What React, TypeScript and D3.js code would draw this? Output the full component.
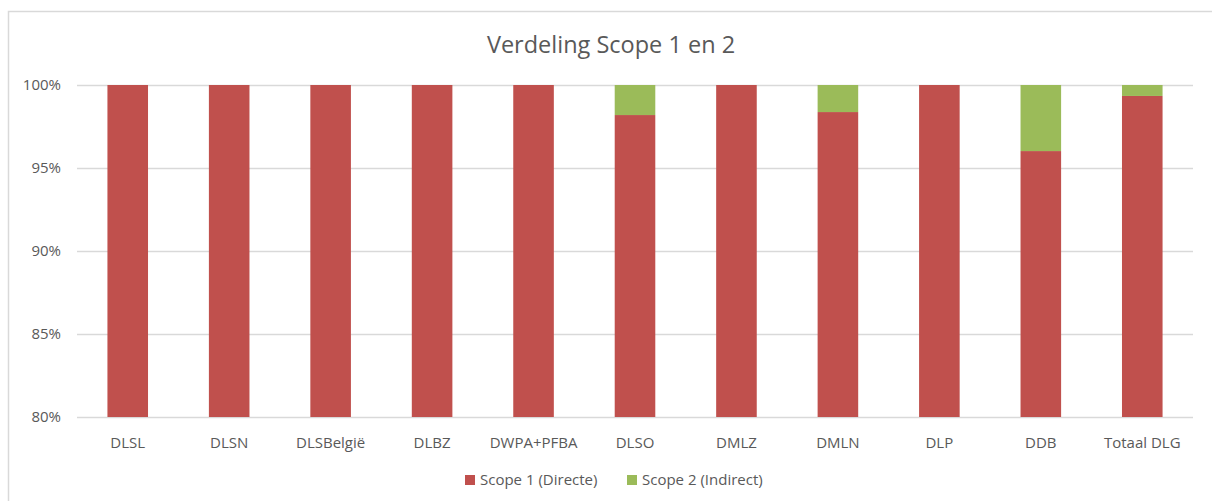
import { useEffect, useRef } from 'react';
import * as d3 from 'd3';

// Chart data
const categories = ['DLSL', 'DLSN', 'DLSBelgië', 'DLBZ', 'DWPA+PFBA', 'DLSO', 'DMLZ', 'DMLN', 'DLP', 'DDB', 'Totaal DLG'];
const scope1 = [1.0, 1.0, 1.0, 1.0, 1.0, 0.9819, 1.0, 0.9837, 1.0, 0.9602, 0.9934];
const scope2 = [0, 0, 0, 0, 0, 0.0181, 0, 0.0163, 0, 0.0398, 0.0066];
const yTicks = [0.8, 0.85, 0.9, 0.95, 1.0];
const seriesNames = ['Scope 1 (Directe)', 'Scope 2 (Indirect)'];
const seriesColors = ['#C0504D', '#9BBB59'];

const App = () => {
  const ref = useRef<SVGSVGElement>(null);

  useEffect(() => {
    const W = 1212;
    const H = 501;
    const svg = d3.select(ref.current);
    svg.selectAll('*').remove();

    const font = "'Open Sans', 'Noto Sans', sans-serif";
    const margin = { top: 85, right: 19, bottom: 84, left: 77 };
    const width = W - margin.left - margin.right;
    const height = H - margin.top - margin.bottom;

    // Chart frame
    svg.append('path')
      .attr('d', `M8.5,${H} V11.5 H${W}`)
      .attr('fill', 'none')
      .attr('stroke', '#d9d9d9')
      .attr('stroke-width', 1.5);

    // Title
    svg.append('text')
      .attr('x', 611)
      .attr('y', 53)
      .attr('text-anchor', 'middle')
      .style('font-family', font)
      .style('font-size', '23.5px')
      .style('fill', '#595959')
      .text('Verdeling Scope 1 en 2');

    const g = svg.append('g').attr('transform', `translate(${margin.left},${margin.top})`);

    const x = d3.scaleBand<string>()
      .domain(categories)
      .range([0, width])
      .paddingInner(0.6)
      .paddingOuter(0.3);

    const y = d3.scaleLinear().domain([0.8, 1.0]).range([height, 0]);

    // Gridlines
    g.append('g')
      .selectAll('line')
      .data(yTicks)
      .enter()
      .append('line')
      .attr('x1', 0)
      .attr('x2', width)
      .attr('y1', d => Math.round(y(d)) + 0.5)
      .attr('y2', d => Math.round(y(d)) + 0.5)
      .attr('stroke', '#d9d9d9')
      .attr('stroke-width', 1.5);

    // Y tick labels
    g.append('g')
      .selectAll('text')
      .data(yTicks)
      .enter()
      .append('text')
      .attr('x', -16)
      .attr('y', d => y(d))
      .attr('dy', '0.35em')
      .attr('text-anchor', 'end')
      .style('font-family', font)
      .style('font-size', '15px')
      .style('fill', '#595959')
      .text(d => d3.format('.0%')(d));

    // Stacked bars
    const rows = categories.map((c, i) => ({ cat: c, s1: scope1[i], s2: scope2[i] }));
    const stack = d3.stack<any>().keys(['s1', 's2'])(rows);
    const clamp = (v: number) => Math.max(0.8, Math.min(1.0, v));

    stack.forEach((layer, li) => {
      g.append('g')
        .attr('fill', seriesColors[li])
        .selectAll('rect')
        .data(layer)
        .enter()
        .append('rect')
        .attr('x', d => x(d.data.cat)!)
        .attr('width', x.bandwidth())
        .attr('y', d => y(clamp(d[1])))
        .attr('height', d => Math.max(0, y(clamp(d[0])) - y(clamp(d[1]))));
    });

    // X labels
    g.append('g')
      .selectAll('text')
      .data(categories)
      .enter()
      .append('text')
      .attr('x', d => x(d)! + x.bandwidth() / 2)
      .attr('y', height + 31)
      .attr('text-anchor', 'middle')
      .style('font-family', font)
      .style('font-size', '15px')
      .style('fill', '#595959')
      .text(d => d);

    // Legend
    const legendX = [465, 627];
    seriesNames.forEach((name, i) => {
      const lg = svg.append('g').attr('transform', `translate(${legendX[i]},480)`);
      lg.append('rect')
        .attr('x', 0)
        .attr('y', -5)
        .attr('width', 10)
        .attr('height', 10)
        .attr('fill', seriesColors[i]);
      lg.append('text')
        .attr('x', 15)
        .attr('y', 0)
        .attr('dy', '0.35em')
        .style('font-family', font)
        .style('font-size', '15px')
        .style('fill', '#595959')
        .text(name);
    });
  }, []);

  return (
    <svg
      ref={ref}
      width={1212}
      height={501}
      style={{ position: 'absolute', left: 0, top: 0, background: '#fff' }}
    />
  );
};

export default App;
